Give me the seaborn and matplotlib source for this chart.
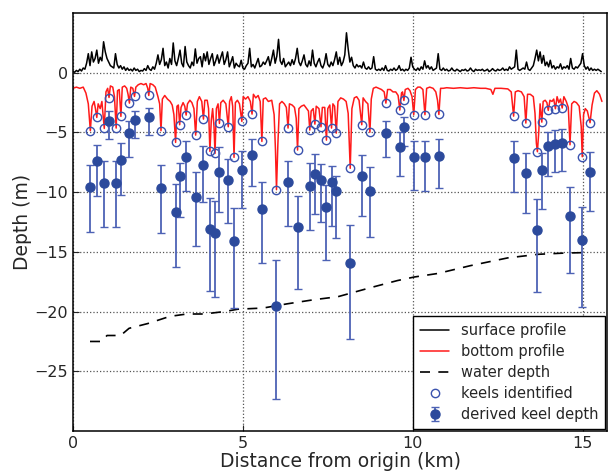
import numpy as np
import matplotlib
matplotlib.use("Agg")
import matplotlib.pyplot as plt
import seaborn as sns

# ---- keels: position (km), identified depth, derived depth, error bar top/bottom ----
keel_x = [0.51, 0.70, 0.92, 1.06, 1.27, 1.41, 1.66, 1.81, 2.23, 2.59,
          3.02, 3.14, 3.33, 3.61, 3.84, 4.03, 4.18, 4.31, 4.57, 4.74,
          4.97, 5.27, 5.56, 5.99, 6.33, 6.61, 6.97, 7.12, 7.30, 7.46,
          7.61, 7.75, 8.16, 8.50, 8.74, 9.21, 9.62, 9.74, 10.03, 10.36,
          10.77, 12.97, 13.33, 13.67, 13.80, 13.99, 14.20, 14.40, 14.63, 14.99,
          15.22]
keel_ident = [-4.85, -3.74, -4.66, -2.07, -4.63, -3.65, -2.54, -1.98, -1.90, -4.85,
              -5.83, -4.35, -3.54, -5.22, -3.88, -6.58, -6.75, -4.24, -4.52, -7.08,
              -4.07, -3.46, -5.75, -9.79, -4.63, -6.47, -4.80, -4.30, -4.52, -5.64,
              -4.63, -5.05, -8.00, -4.35, -4.97, -2.54, -3.12, -2.32, -3.51, -3.51,
              -3.49, -3.63, -4.21, -6.61, -4.13, -3.15, -3.01, -2.95, -6.03, -7.03,
              -4.18]
keel_depth = [-9.60, -7.42, -9.26, -4.02, -9.23, -7.31, -5.08, -3.93, -3.74, -9.65,
              -11.63, -8.68, -7.09, -10.38, -7.72, -13.08, -13.42, -8.34, -8.98, -14.09,
              -8.12, -6.86, -11.44, -19.55, -9.18, -12.94, -9.46, -8.48, -8.95, -11.24,
              -9.18, -9.87, -15.90, -8.62, -9.87, -5.08, -6.19, -4.58, -7.03, -7.09,
              -6.95, -7.17, -8.40, -13.17, -8.15, -6.17, -5.97, -5.92, -12.02, -14.00,
              -8.28]
keel_top = [-7.73, -6.03, -7.42, -3.24, -7.42, -5.89, -4.02, -3.20, -2.96, -7.73,
            -9.32, -7.56, -5.69, -8.34, -6.17, -10.49, -10.77, -6.25, -7.22, -11.32,
            -6.53, -5.55, -9.18, -15.67, -7.36, -10.29, -7.56, -6.81, -7.64, -9.40,
            -7.84, -8.62, -12.72, -6.89, -7.92, -4.07, -4.94, -3.74, -5.69, -5.69,
            -5.55, -5.75, -6.72, -10.57, -6.70, -5.00, -4.80, -4.71, -9.60, -11.21,
            -6.67]
keel_bottom = [-13.36, -10.30, -12.94, -5.55, -12.89, -10.20, -7.09, -5.50, -5.19, -13.45,
               -16.23, -12.10, -9.87, -14.53, -10.80, -18.24, -18.74, -11.63, -12.55, -19.67,
               -11.35, -9.51, -15.96, -27.30, -12.80, -18.07, -13.17, -11.83, -12.53, -15.67,
               -12.80, -13.84, -22.30, -12.02, -13.78, -7.09, -8.62, -6.17, -9.82, -9.87,
               -9.68, -10.00, -11.74, -18.38, -11.40, -8.62, -8.34, -8.20, -16.80, -19.58,
               -11.60]

# ---- water depth ----
water_x = [0.5, 0.85, 1.0, 1.4, 1.65, 2.2, 2.85, 3.35, 3.85, 4.45, 4.85, 5.6,
           6.3, 7.1, 7.8, 8.75, 9.55, 10.05, 10.75, 11.7, 12.8, 13.7, 14.45, 15.2]
water_y = [-22.5, -22.5, -22.0, -22.0, -21.4, -21.0, -20.4, -20.2, -20.2, -20.0, -19.8, -19.7,
           -19.35, -19.0, -18.75, -18.0, -17.4, -17.1, -16.8, -16.15, -15.5, -15.2, -15.1, -15.05]

# ---- surface profile, one value every 0.05 km from 0 to 15.55 ----
surface_step = 0.05
surface_h = [
    0.1, 0.05, 0.2, 0.1, 0.3, 0.15, 0.4, 0.3, 0.8, 1.6, 0.6, 1.75, 0.9, 1.2, 1.9, 0.8, 1.3, 1.0, 2.6, 1.75,
    1.2, 0.9, 0.6, 0.5, 0.4, 1.6, 0.7, 0.4, 0.6, 0.3, 0.5, 0.2, 0.4, 0.2, 0.3, 0.15, 0.4, 0.2, 0.3, 0.1,
    0.2, 0.15, 0.35, 0.2, 0.6, 0.3, 0.2, 0.5, 0.3, 0.8, 1.5, 0.7, 1.1, 2.05, 0.6, 0.9, 0.4, 1.2, 0.7, 2.5,
    1.0, 0.6, 1.2, 1.9, 0.8, 0.5, 2.2, 0.9, 0.6, 0.4, 0.9, 0.6, 2.0, 0.8, 1.2, 1.35, 0.5, 1.6, 1.0, 1.75,
    0.7, 1.2, 1.6, 0.6, 1.0, 1.5, 0.8, 1.3, 1.75, 0.7, 1.1, 1.75, 0.5, 0.9, 1.35, 0.4, 0.8, 0.6, 0.5, 1.05,
    0.4, 0.3, 0.6, 0.8, 2.05, 0.5, 0.7, 0.4, 0.8, 1.2, 0.5, 0.6, 0.9, 0.7, 1.0, 1.35, 0.6, 1.2, 1.9, 0.8,
    1.4, 2.8, 1.0, 0.7, 1.2, 0.5, 0.7, 0.9, 0.6, 1.1, 0.7, 1.2, 2.05, 0.9, 0.6, 1.0, 1.5, 0.7, 0.5, 1.0,
    0.6, 1.9, 0.8, 0.5, 0.9, 1.2, 0.6, 0.4, 0.8, 1.6, 0.7, 0.5, 0.9, 0.6, 1.1, 1.75, 0.7, 1.3, 0.6, 0.9,
    1.5, 3.35, 2.0, 0.9, 1.3, 0.6, 0.4, 0.7, 0.5, 0.6, 0.4, 0.9, 0.4, 0.3, 0.5, 0.3, 0.4, 1.35, 0.3, 0.2,
    0.3, 0.2, 0.4, 0.2, 0.6, 0.2, 0.15, 0.3, 0.2, 0.4, 0.2, 0.3, 0.6, 0.2, 0.3, 0.15, 0.3, 0.2, 0.4, 1.3,
    0.5, 0.3, 0.2, 0.4, 0.2, 0.5, 0.3, 1.0, 0.4, 0.6, 0.3, 0.5, 0.2, 0.3, 0.4, 1.6, 0.3, 0.2, 0.4, 0.2,
    0.3, 0.15, 0.2, 0.4, 0.2, 0.15, 0.3, 0.2, 0.1, 0.25, 0.2, 0.3, 0.15, 0.2, 0.4, 0.2, 0.1, 0.3, 0.2, 0.25,
    0.2, 0.3, 0.15, 0.2, 0.3, 0.1, 0.2, 0.35, 0.2, 0.15, 0.3, 0.2, 0.25, 0.4, 0.2, 0.3, 0.2, 0.5, 0.3, 0.4,
    0.5, 1.9, 0.3, 0.2, 0.3, 0.4, 0.3, 0.9, 0.3, 0.2, 0.4, 0.6, 1.2, 1.9, 1.0, 1.75, 0.8, 1.45, 0.6, 0.9,
    0.5, 1.05, 0.4, 0.6, 0.3, 0.5, 0.4, 0.75, 0.3, 0.5, 0.4, 0.6, 0.3, 1.2, 0.4, 0.3, 0.5, 0.4, 0.6, 0.8,
    1.6, 0.6, 0.3, 0.5, 0.2, 0.4, 0.2, 0.3, 0.2, 0.3, 0.2, 0.1,
]
surface_x = np.arange(len(surface_h)) * surface_step

# ---- bottom profile ----
bottom_x = [0.00, 0.10, 0.20, 0.30, 0.38, 0.45, 0.51, 0.56, 0.62, 0.66, 0.70, 0.74, 0.80, 0.85, 0.92,
            0.97, 1.02, 1.06, 1.10, 1.17, 1.22, 1.27, 1.31, 1.36, 1.41, 1.45, 1.52, 1.58, 1.62, 1.66,
            1.70, 1.76, 1.81, 1.85, 1.92, 2.00, 2.08, 2.15, 2.20, 2.23, 2.27, 2.35, 2.42, 2.50, 2.55,
            2.59, 2.63, 2.70, 2.78, 2.86, 2.92, 2.97, 3.02, 3.06, 3.10, 3.14, 3.18, 3.24, 3.29, 3.33,
            3.37, 3.44, 3.50, 3.56, 3.61, 3.66, 3.72, 3.79, 3.84, 3.88, 3.95, 3.99, 4.03, 4.07, 4.11,
            4.15, 4.18, 4.22, 4.27, 4.31, 4.35, 4.42, 4.50, 4.57, 4.61, 4.66, 4.70, 4.74, 4.78, 4.84,
            4.90, 4.97, 5.01, 5.08, 5.15, 5.22, 5.27, 5.31, 5.38, 5.45, 5.51, 5.56, 5.60, 5.67, 5.75,
            5.85, 5.92, 5.96, 5.99, 6.03, 6.08, 6.15, 6.22, 6.28, 6.33, 6.37, 6.45, 6.52, 6.57, 6.61,
            6.65, 6.72, 6.80, 6.88, 6.93, 6.97, 7.01, 7.07, 7.12, 7.16, 7.24, 7.30, 7.34, 7.41, 7.46,
            7.50, 7.56, 7.61, 7.65, 7.70, 7.75, 7.80, 7.88, 7.96, 8.04, 8.10, 8.16, 8.21, 8.28, 8.35,
            8.42, 8.50, 8.54, 8.61, 8.68, 8.74, 8.78, 8.84, 8.92, 9.00, 9.08, 9.16, 9.21, 9.26, 9.34,
            9.42, 9.50, 9.57, 9.62, 9.67, 9.70, 9.74, 9.78, 9.86, 9.92, 9.98, 10.03, 10.08, 10.15, 10.22,
            10.30, 10.36, 10.41, 10.50, 10.60, 10.68, 10.73, 10.77, 10.82, 10.90, 11.00, 11.20, 11.40, 11.60, 11.80,
            12.00, 12.15, 12.30, 12.36, 12.42, 12.60, 12.80, 12.90, 12.97, 13.02, 13.10, 13.20, 13.28, 13.33, 13.38,
            13.46, 13.55, 13.60, 13.64, 13.67, 13.71, 13.75, 13.80, 13.84, 13.90, 13.95, 13.99, 14.04, 14.10, 14.15,
            14.20, 14.25, 14.30, 14.35, 14.40, 14.45, 14.52, 14.58, 14.63, 14.68, 14.75, 14.82, 14.90, 14.96, 14.99,
            15.03, 15.08, 15.14, 15.22, 15.28, 15.35, 15.42, 15.50, 15.57]
bottom_y = [-1.3, -1.2, -1.3, -1.2, -1.7, -2.6, -4.85, -2.8, -2.4, -3.0, -3.74, -2.6, -3.0, -2.4, -4.66,
            -1.6, -1.3, -2.07, -1.1, -1.2, -2.0, -4.63, -1.5, -1.4, -3.65, -1.2, -1.1, -1.3, -1.8, -2.54,
            -1.2, -1.3, -1.98, -1.2, -1.0, -0.9, -1.0, -0.9, -1.3, -1.9, -0.9, -1.0, -1.2, -2.0, -2.6,
            -4.85, -2.2, -1.9, -2.2, -2.4, -2.7, -3.5, -5.83, -2.8, -2.7, -4.35, -2.9, -2.5, -2.8, -3.54,
            -2.6, -2.3, -2.5, -3.0, -5.22, -2.4, -2.0, -2.4, -3.88, -2.3, -2.3, -3.0, -6.58, -4.0, -3.0,
            -4.5, -6.75, -3.0, -2.6, -4.24, -2.5, -2.3, -2.6, -4.52, -2.4, -2.0, -2.8, -7.08, -2.5, -2.3,
            -2.6, -4.07, -2.0, -2.2, -2.0, -2.4, -3.46, -1.8, -2.1, -1.9, -2.4, -5.75, -2.2, -2.1, -2.4,
            -2.3, -3.5, -6.5, -9.79, -6.0, -2.6, -2.4, -2.6, -2.9, -4.63, -2.6, -2.7, -2.9, -3.8, -6.47,
            -3.0, -2.8, -2.7, -3.0, -3.2, -4.80, -3.2, -3.0, -4.30, -2.8, -3.0, -4.52, -2.9, -2.9, -5.64,
            -3.0, -2.7, -4.63, -2.6, -2.8, -5.05, -2.4, -2.1, -2.2, -2.4, -3.4, -8.0, -3.0, -2.1, -2.0,
            -2.3, -4.35, -2.1, -2.4, -2.6, -4.97, -2.2, -1.3, -1.2, -1.3, -1.4, -1.6, -2.54, -1.4, -1.4,
            -1.6, -1.6, -1.9, -3.12, -1.7, -1.6, -2.32, -1.4, -1.3, -1.5, -2.0, -3.51, -1.4, -1.2, -1.2,
            -1.4, -3.51, -1.3, -1.2, -1.3, -1.6, -2.3, -3.49, -1.3, -1.3, -1.25, -1.3, -1.25, -1.3, -1.25,
            -1.3, -1.3, -1.4, -1.8, -1.3, -1.3, -1.35, -1.6, -3.63, -1.6, -1.5, -1.6, -2.0, -4.21, -1.8,
            -1.8, -2.0, -3.4, -5.9, -6.61, -5.0, -2.6, -4.13, -2.4, -2.3, -2.5, -3.15, -2.3, -2.4, -2.2,
            -3.01, -2.0, -2.5, -2.2, -2.95, -2.0, -2.4, -2.9, -6.03, -2.6, -2.4, -2.5, -2.8, -4.5, -7.03,
            -3.5, -3.0, -3.2, -4.18, -2.7, -1.7, -1.5, -1.8, -2.4]

sns.set_style("ticks")
plt.rcParams['font.family'] = ['DejaVu Sans']

fig = plt.figure(figsize=(6.11, 4.76), dpi=100)
ax = fig.add_axes([0.1195, 0.0945, 0.874, 0.878])

dot_col = '#2c4a9c'
bar_col = '#4d62b5'

sns.lineplot(x=surface_x, y=surface_h, ax=ax, color='black', linewidth=1.1,
             estimator=None, sort=False, label='surface profile')
sns.lineplot(x=bottom_x, y=bottom_y, ax=ax, color='#ff1a1a', linewidth=1.1,
             estimator=None, sort=False, label='bottom profile')
sns.lineplot(x=water_x, y=water_y, ax=ax, color='black', linewidth=1.2,
             estimator=None, sort=False, label='water depth')
ax.lines[-1].set_dashes([6, 5])

ax.plot(keel_x, keel_ident, 'o', mfc='none', mec='#3a52ae', mew=1.0, ms=6,
        label='keels identified', zorder=4)

depth = np.array(keel_depth)
yerr = [depth - np.array(keel_bottom), np.array(keel_top) - depth]
ax.errorbar(keel_x, keel_depth, yerr=yerr, fmt='o', color=dot_col, ms=6.5,
            ecolor=bar_col, elinewidth=1.3, capsize=2.6, capthick=1.0,
            label='derived keel depth', zorder=5)

ax.set_xlim(0, 15.72)
ax.set_ylim(-30, 5)
ax.set_xticks([0, 5, 10, 15])
ax.set_yticks([-25, -20, -15, -10, -5, 0])
ax.set_yticklabels(['\u221225', '\u221220', '\u221215', '\u221210', '\u22125', '0'])
ax.tick_params(labelsize=11.5, direction='in', length=4)
ax.grid(True, linestyle=':', color='#555555', linewidth=0.9)
ax.set_xlabel('Distance from origin (km)', fontsize=13.5, labelpad=1)
ax.set_ylabel('Depth (m)', fontsize=13.5, labelpad=2)
for sp in ax.spines.values():
    sp.set_linewidth(1.1)
    sp.set_color('black')
    sp.set_visible(True)

leg = ax.legend(loc='lower right', fontsize=10.5, frameon=True, fancybox=False,
                borderaxespad=0.15, handlelength=2.0, labelspacing=0.42,
                borderpad=0.45, numpoints=1)
leg.get_frame().set_edgecolor('black')
leg.get_frame().set_linewidth(1.0)
leg.get_frame().set_alpha(1)

fig.savefig('out.png', dpi=100)
